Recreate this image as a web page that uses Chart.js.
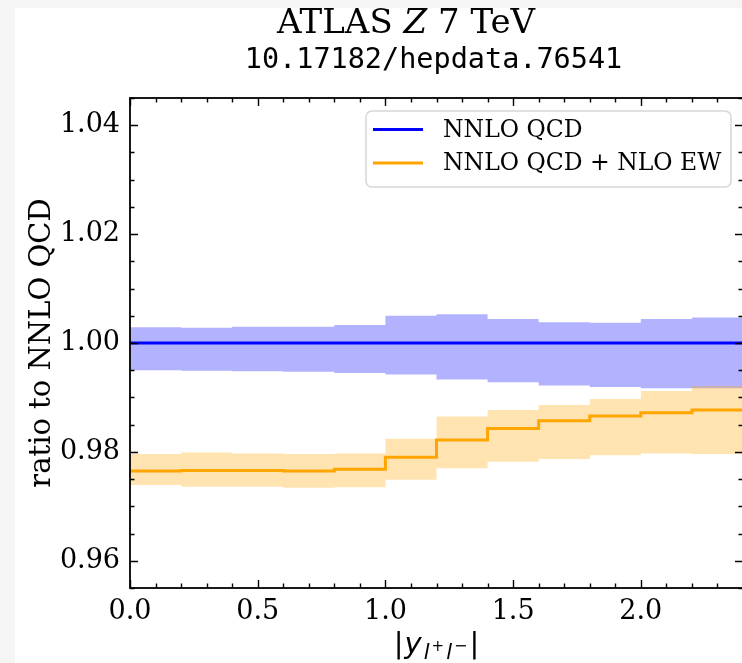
<!DOCTYPE html>
<html>
<head>
<meta charset="utf-8">
<script src="https://cdn.jsdelivr.net/npm/chart.js@4/dist/chart.umd.min.js"></script>
<style>
  html, body { margin: 0; padding: 0; overflow: hidden; background: #f5f5f5; width: 742px; height: 663px; }
  #wrap { position: absolute; left: 15px; top: 8px; width: 760px; height: 655px; background: #ffffff; }
  canvas { display: block; }
</style>
</head>
<body>
<div id="wrap"><canvas id="c" width="760" height="655"></canvas></div>
<script>
// ---- data ----
const binEdges = [0.0, 0.2, 0.4, 0.6, 0.8, 1.0, 1.2, 1.4, 1.6, 1.8, 2.0, 2.2, 2.4];
const qcdCentral = [1.0, 1.0, 1.0, 1.0, 1.0, 1.0, 1.0, 1.0, 1.0, 1.0, 1.0, 1.0];
const qcdUpper = [1.0029, 1.0028, 1.0030, 1.0030, 1.0033, 1.0050, 1.0053, 1.0044, 1.0038, 1.0037, 1.0044, 1.0047];
const qcdLower = [0.9950, 0.9949, 0.9948, 0.9947, 0.9945, 0.9942, 0.9933, 0.9928, 0.9922, 0.9919, 0.9917, 0.9917];
const ewCentral = [0.9765, 0.9766, 0.9766, 0.9765, 0.9768, 0.9790, 0.9822, 0.9843, 0.9857, 0.9866, 0.9872, 0.9877];
const ewUpper = [0.9796, 0.9799, 0.9797, 0.9796, 0.9797, 0.9824, 0.9865, 0.9877, 0.9886, 0.9897, 0.9912, 0.9921];
const ewLower = [0.9739, 0.9736, 0.9736, 0.9734, 0.9735, 0.9749, 0.9770, 0.9782, 0.9787, 0.9794, 0.9797, 0.9796];
const seriesNames = ["NNLO QCD", "NNLO QCD + NLO EW"];
const xTickValues = [0.0, 0.5, 1.0, 1.5, 2.0];
const yTickValues = [0.96, 0.98, 1.00, 1.02, 1.04];
const titleMain = ["ATLAS ", "Z", " 7 TeV"];
const titleSub = "10.17182/hepdata.76541";
const yTitle = "ratio to NNLO QCD";

// ---- helpers ----
function steps(vals) {
  return binEdges.map((x, i) => ({ x: x, y: vals[Math.min(i, vals.length - 1)] }));
}
const BLUE = '#0000ff', ORANGE = '#ffa500';
const SERIF = '"DejaVu Serif", serif';

const decorPlugin = {
  id: 'decor',
  afterDraw(chart) {
    const ctx = chart.ctx;
    const a = chart.chartArea;
    const xs = chart.scales.x, ys = chart.scales.y;
    ctx.save();
    // minor + major ticks, inward, all four sides
    ctx.strokeStyle = '#000';
    ctx.lineWidth = 1.4;
    const drawX = (v, len) => {
      const p = Math.round(xs.getPixelForValue(v)) + 0.5;
      if (p < a.left - 1 || p > a.right + 1) return;
      ctx.beginPath();
      ctx.moveTo(p, a.bottom); ctx.lineTo(p, a.bottom - len);
      ctx.moveTo(p, a.top); ctx.lineTo(p, a.top + len);
      ctx.stroke();
    };
    const drawY = (v, len) => {
      const p = Math.round(ys.getPixelForValue(v)) + 0.5;
      if (p < a.top - 1 || p > a.bottom + 1) return;
      ctx.beginPath();
      ctx.moveTo(a.left, p); ctx.lineTo(a.left + len, p);
      ctx.moveTo(a.right, p); ctx.lineTo(a.right - len, p);
      ctx.stroke();
    };
    for (let k = 0; k <= 24; k++) drawX(k / 10, k % 5 === 0 ? 8 : 4.5);
    for (let k = 191; k <= 209; k++) drawY(k / 200, k % 4 === 0 ? 8 : 4.5);
    // spines
    ctx.lineWidth = 1.8;
    ctx.strokeRect(a.left, a.top, a.right - a.left, a.bottom - a.top);

    // legend
    const lx = 351, ly = 103, lw = 365, lh = 76, r = 6;
    ctx.beginPath();
    ctx.moveTo(lx + r, ly); ctx.lineTo(lx + lw - r, ly); ctx.arcTo(lx + lw, ly, lx + lw, ly + r, r);
    ctx.lineTo(lx + lw, ly + lh - r); ctx.arcTo(lx + lw, ly + lh, lx + lw - r, ly + lh, r);
    ctx.lineTo(lx + r, ly + lh); ctx.arcTo(lx, ly + lh, lx, ly + lh - r, r);
    ctx.lineTo(lx, ly + r); ctx.arcTo(lx, ly, lx + r, ly, r);
    ctx.closePath();
    ctx.fillStyle = 'rgba(255,255,255,0.8)';
    ctx.fill();
    ctx.strokeStyle = '#d6d6d6'; ctx.lineWidth = 1.5; ctx.stroke();
    const legendColors = [BLUE, ORANGE];
    ctx.font = '23.5px ' + SERIF;
    ctx.textBaseline = 'middle';
    ctx.textAlign = 'left';
    seriesNames.forEach((name, i) => {
      const yy = 121.5 + i * 33.5;
      ctx.strokeStyle = legendColors[i]; ctx.lineWidth = 3;
      ctx.beginPath(); ctx.moveTo(358, yy); ctx.lineTo(408, yy); ctx.stroke();
      ctx.fillStyle = '#000';
      ctx.fillText(name, 428, yy + 1);
    });

    // title (suptitle)
    ctx.fillStyle = '#000';
    ctx.textBaseline = 'alphabetic';
    const fonts = ['34px ' + SERIF, 'italic 34px ' + SERIF, '34px ' + SERIF];
    let tw = 0;
    titleMain.forEach((t, i) => { ctx.font = fonts[i]; tw += ctx.measureText(t).width; });
    let tx = 391 - tw / 2;
    titleMain.forEach((t, i) => { ctx.font = fonts[i]; ctx.fillText(t, tx, 25); tx += ctx.measureText(t).width; });
    // subtitle (axes title)
    ctx.font = '28.5px "DejaVu Sans Mono", monospace';
    ctx.textAlign = 'center';
    ctx.fillText(titleSub, (a.left + a.right) / 2 - 3, 60);

    // y title
    ctx.save();
    ctx.translate(35, (a.top + a.bottom) / 2);
    ctx.rotate(-Math.PI / 2);
    ctx.font = '29px ' + SERIF;
    ctx.textAlign = 'center';
    ctx.textBaseline = 'alphabetic';
    ctx.fillText(yTitle, 0, 0);
    ctx.restore();

    // x title: |y_{l+l-}|
    const cx = (a.left + a.right) / 2;
    const base = 645;
    const parts = [
      { t: '|', f: '29px "DejaVu Sans"', dy: 0, gap: 1 },
      { t: 'y', f: 'italic 29px "DejaVu Sans"', dy: 0, gap: 2 },
      { t: 'l', f: 'italic 21px "DejaVu Sans"', dy: 6, gap: 2 },
      { t: '+', f: '15px "DejaVu Sans"', dy: -2, gap: 2 },
      { t: 'l', f: 'italic 21px "DejaVu Sans"', dy: 6, gap: 2 },
      { t: '\u2212', f: '16px "DejaVu Sans"', dy: -2, gap: 2 },
      { t: '|', f: '29px "DejaVu Sans"', dy: 0, gap: 0 }
    ];
    ctx.textAlign = 'left';
    let w = 0;
    parts.forEach(p => { ctx.font = p.f; w += ctx.measureText(p.t).width + p.gap; });
    let px = cx - w / 2;
    parts.forEach(p => { ctx.font = p.f; ctx.fillText(p.t, px, base + p.dy); px += ctx.measureText(p.t).width + p.gap; });
    ctx.restore();
  }
};

const ds = [
  { data: steps(qcdUpper), borderWidth: 0, pointRadius: 0, stepped: true, fill: 1, backgroundColor: 'rgba(0,0,255,0.3)', order: 6 },
  { data: steps(qcdLower), borderWidth: 0, pointRadius: 0, stepped: true, fill: false, order: 5 },
  { data: steps(qcdCentral), borderColor: BLUE, borderWidth: 3, pointRadius: 0, stepped: true, fill: false, order: 4 },
  { data: steps(ewUpper), borderWidth: 0, pointRadius: 0, stepped: true, fill: 4, backgroundColor: 'rgba(255,165,0,0.3)', order: 3 },
  { data: steps(ewLower), borderWidth: 0, pointRadius: 0, stepped: true, fill: false, order: 2 },
  { data: steps(ewCentral), borderColor: ORANGE, borderWidth: 3, pointRadius: 0, stepped: true, fill: false, order: 1 }
];

new Chart(document.getElementById('c'), {
  type: 'line',
  data: { datasets: ds },
  options: {
    responsive: false,
    animation: false,
    events: [],
    layout: { padding: { left: 0, right: 32, top: 90, bottom: 0 } },
    plugins: { legend: { display: false }, tooltip: { enabled: false }, title: { display: false } },
    scales: {
      x: {
        type: 'linear', min: 0, max: 2.4,
        grid: { display: false, drawTicks: false },
        border: { display: false },
        afterBuildTicks: s => { s.ticks = xTickValues.map(v => ({ value: v })); },
        afterFit: s => { s.height = 75; },
        ticks: { padding: 8, color: '#000', font: { family: 'DejaVu Serif', size: 27 }, maxRotation: 0,
                 callback: v => v.toFixed(1) }
      },
      y: {
        type: 'linear', min: 0.955, max: 1.045,
        grid: { display: false, drawTicks: false },
        border: { display: false },
        afterBuildTicks: s => { s.ticks = yTickValues.map(v => ({ value: v })); },
        afterFit: s => { s.width = 115; },
        ticks: { padding: 10, color: '#000', font: { family: 'DejaVu Serif', size: 27 },
                 callback: v => v.toFixed(2) }
      }
    }
  },
  plugins: [decorPlugin]
});
</script>
</body>
</html>
